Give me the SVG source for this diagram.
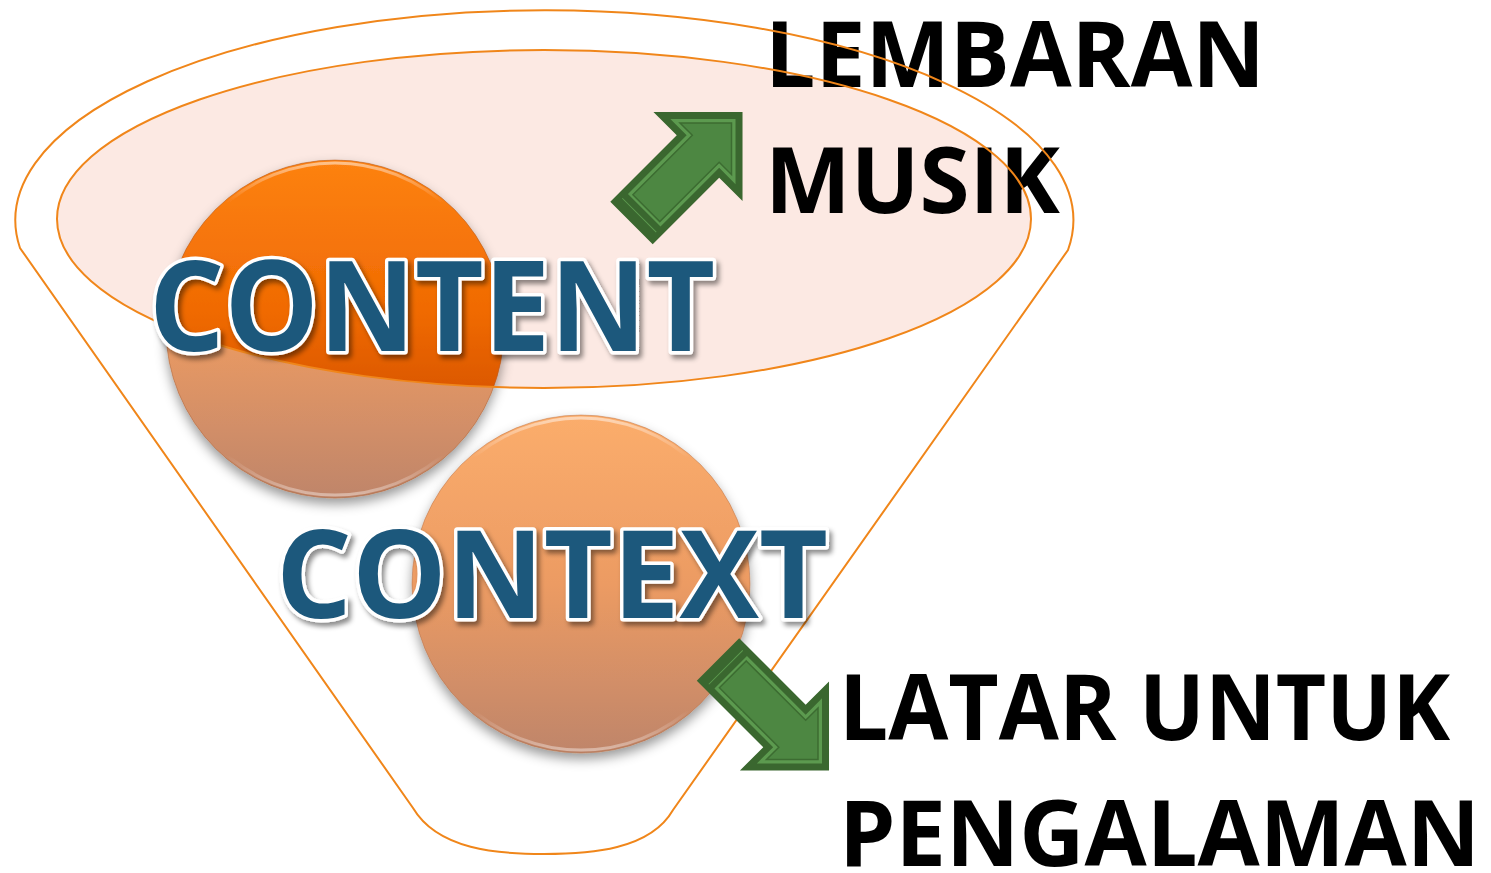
<svg xmlns="http://www.w3.org/2000/svg" xmlns:xlink="http://www.w3.org/1999/xlink" width="1491" height="873" viewBox="0 0 1491 873">
<style>
.outline{fill:none;stroke:#f0861a;stroke-width:2}
.label{font-family:"Open Sans","Liberation Sans",sans-serif;font-weight:700;font-size:92px;fill:#000}
.big{font-family:"Open Sans","Liberation Sans",sans-serif;font-weight:700;fill:#1f587b;stroke:#fff;stroke-width:7;stroke-linejoin:round;paint-order:stroke}
.adark{fill:#3a672f}
.amid{fill:#5c9a4f}
.alight{fill:#4d8742;stroke:#3c6c31;stroke-width:1.5}
</style>
<defs>
<linearGradient id="gLight" x1="0" y1="0" x2="0" y2="1">
<stop offset="0" stop-color="#fbad6c"/>
<stop offset="0.5" stop-color="#ec9b63"/>
<stop offset="1" stop-color="#bf856a"/>
</linearGradient>
<linearGradient id="gSat" x1="0" y1="0" x2="0" y2="1">
<stop offset="0" stop-color="#fd8212"/>
<stop offset="0.45" stop-color="#f06a02"/>
<stop offset="0.75" stop-color="#d55200"/>
<stop offset="1" stop-color="#c04800"/>
</linearGradient>
<linearGradient id="gRim" x1="0" y1="0" x2="0" y2="1">
<stop offset="0" stop-color="#fff" stop-opacity="0.5"/>
<stop offset="0.12" stop-color="#fff" stop-opacity="0"/>
<stop offset="0.88" stop-color="#fff" stop-opacity="0"/>
<stop offset="1" stop-color="#fff" stop-opacity="0.4"/>
</linearGradient>
<clipPath id="clipEll"><ellipse cx="544" cy="219" rx="487" ry="169"/></clipPath>
<filter id="shadow" x="-20%" y="-20%" width="140%" height="150%">
<feDropShadow dx="0" dy="6" stdDeviation="6" flood-color="#000" flood-opacity="0.4"/>
</filter>
<filter id="tshadow" x="-10%" y="-20%" width="120%" height="150%">
<feDropShadow dx="3" dy="4" stdDeviation="2.5" flood-color="#000" flood-opacity="0.45"/>
</filter>
<g id="arrow">
<polygon class="adark" points="0,-30 94,-30 94,-63 157,0 94,63 94,30 0,30"/>
<polygon class="amid" points="18,-23 101,-23 101,-46.1 147.1,0 101,46.1 101,23 18,23"/>
<polygon class="alight" points="21,-19 105,-19 105,-36.4 141.4,0 105,36.4 105,19 21,19"/>
<line x1="11" y1="-24" x2="11" y2="24" stroke="#5c9a4f" stroke-width="1"/>
</g>
</defs>
<rect width="1491" height="873" fill="#fff"/>
<g id="top-ellipse-fill">
<ellipse cx="544" cy="219" rx="487" ry="169" fill="#fce9e3"/>
</g>
<g id="node-content-circle" filter="url(#shadow)">
<circle cx="335" cy="329" r="169" fill="url(#gLight)"/>
<circle cx="335" cy="329" r="169" fill="url(#gSat)" clip-path="url(#clipEll)"/>
<circle cx="335" cy="329" r="166" fill="none" stroke="url(#gRim)" stroke-width="3"/>
<circle cx="335" cy="329" r="169" fill="none" stroke="#a9592a" stroke-opacity="0.5" stroke-width="1"/>
</g>
<g id="node-context-circle" filter="url(#shadow)">
<circle cx="581" cy="584" r="169" fill="url(#gLight)"/>
<circle cx="581" cy="584" r="166" fill="none" stroke="url(#gRim)" stroke-width="3"/>
<circle cx="581" cy="584" r="169" fill="none" stroke="#a9592a" stroke-opacity="0.4" stroke-width="1"/>
</g>
<g id="label-lembaran">
<text class="label" x="765" y="87" textLength="500" lengthAdjust="spacingAndGlyphs">LEMBARAN</text>
<text class="label" x="765" y="213" textLength="295" lengthAdjust="spacingAndGlyphs">MUSIK</text>
</g>
<g id="label-latar">
<text class="label" x="839" y="740" textLength="611" lengthAdjust="spacingAndGlyphs">LATAR UNTUK</text>
<text class="label" x="839" y="866" textLength="641" lengthAdjust="spacingAndGlyphs">PENGALAMAN</text>
</g>
<g id="funnel">
<path class="outline" d="M 20 248 A 529 210 0 1 1 1068 250 L 673 810 C 650 850 590 854 544 854 C 498 854 438 850 413 808 Z"/>
<ellipse class="outline" cx="544" cy="219" rx="487" ry="169"/>
</g>
<g id="connectors">
<use xlink:href="#arrow" href="#arrow" transform="translate(631.5,223) rotate(-45)"/>
<use xlink:href="#arrow" href="#arrow" transform="translate(718,659.5) rotate(45)"/>
</g>
<g id="node-content-label" filter="url(#tshadow)">
<text class="big" x="149" y="351" font-size="125" textLength="566" lengthAdjust="spacingAndGlyphs">CONTENT</text>
</g>
<g id="node-context-label" filter="url(#tshadow)">
<text class="big" x="276" y="618" font-size="122" textLength="552" lengthAdjust="spacingAndGlyphs">CONTEXT</text>
</g>
</svg>
